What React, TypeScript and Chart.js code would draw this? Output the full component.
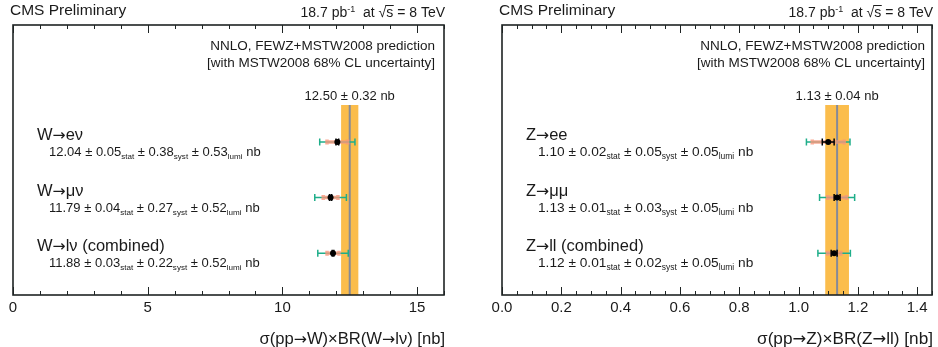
import React, { useEffect, useRef } from 'react';
import { Chart, registerables } from 'chart.js';

Chart.register(...registerables);

const FONT = "'Liberation Sans', Arial, Helvetica, sans-serif";
const ARROW_FONT = "'DejaVu Sans', sans-serif";
const TEXT = '#1a1a1a';
const FRAME = '#1e2424';
const BAND = '#fbbd4c';
const PRED_LINE = '#868a98';
const TOTAL_COLOR = '#1fae8a';
const SYST_COLOR = 'rgba(247,150,122,0.8)';

// ---- shared ----
const rowPositions = [3, 2, 1];
const headerLeft = 'CMS Preliminary';
const luminosity = '18.7';
const energy = '8';
const predictionLines = ['NNLO, FEWZ+MSTW2008 prediction', '[with MSTW2008 68% CL uncertainty]'];

// ---- W panel ----
const wChannels = ['W→eν', 'W→μν', 'W→lν (combined)'];
const wValues = [12.04, 11.79, 11.88];
const wStat = [0.05, 0.04, 0.03];
const wSyst = [0.38, 0.27, 0.22];
const wLumi = [0.53, 0.52, 0.52];
const wPrediction = 12.5;
const wPredictionErr = 0.32;
const wAxisMin = 0;
const wAxisMax = 16;
const wMajorStep = 5;
const wMinorStep = 1;
const wTickDecimals = 0;
const wAxisTitle = 'σ(pp→W)×BR(W→lν) [nb]';

// ---- Z panel ----
const zChannels = ['Z→ee', 'Z→μμ', 'Z→ll (combined)'];
const zValues = [1.10, 1.13, 1.12];
const zStat = [0.02, 0.01, 0.01];
const zSyst = [0.05, 0.03, 0.02];
const zLumi = [0.05, 0.05, 0.05];
const zPrediction = 1.13;
const zPredictionErr = 0.04;
const zAxisMin = 0;
const zAxisMax = 1.45;
const zMajorStep = 0.2;
const zMinorStep = 0.05;
const zTickDecimals = 1;
const zAxisTitle = 'σ(pp→Z)×BR(Z→ll) [nb]';

type Seg = { t: string; size: number; dy?: number; over?: boolean; family?: string };

function withArrows(text: string, size: number): Seg[] {
  const parts = text.split('→');
  const out: Seg[] = [];
  parts.forEach((p, i) => {
    if (i > 0) out.push({ t: '→', size: size * 0.95, family: ARROW_FONT });
    if (p) out.push({ t: p, size });
  });
  return out;
}

function drawRich(ctx: CanvasRenderingContext2D, segs: Seg[], x: number, y: number, align: 'left' | 'right' | 'center') {
  const ws = segs.map((s) => {
    ctx.font = `${s.size}px ${s.family || FONT}`;
    return ctx.measureText(s.t).width;
  });
  const total = ws.reduce((a, b) => a + b, 0);
  let cx = align === 'left' ? x : align === 'right' ? x - total : x - total / 2;
  ctx.textAlign = 'left';
  ctx.textBaseline = 'alphabetic';
  ctx.fillStyle = TEXT;
  segs.forEach((s, i) => {
    ctx.font = `${s.size}px ${s.family || FONT}`;
    ctx.fillText(s.t, cx, y + (s.dy || 0));
    if (s.over) {
      ctx.beginPath();
      ctx.strokeStyle = TEXT;
      ctx.lineWidth = 1;
      const oy = y - s.size * 0.82;
      ctx.moveTo(cx - 1, oy);
      ctx.lineTo(cx + ws[i] + 0.5, oy);
      ctx.stroke();
    }
    cx += ws[i];
  });
}

function valueSegs(v: number, st: number, sy: number, lu: number, size: number): Seg[] {
  const sub = size * 0.62;
  return [
    { t: `${v.toFixed(2)} ± ${st.toFixed(2)}`, size },
    { t: 'stat', size: sub, dy: 3 },
    { t: ` ± ${sy.toFixed(2)}`, size },
    { t: 'syst', size: sub, dy: 3 },
    { t: ` ± ${lu.toFixed(2)}`, size },
    { t: 'lumi', size: sub, dy: 3 },
    { t: ' nb', size },
  ];
}

interface PanelCfg {
  channels: string[];
  values: number[];
  stat: number[];
  syst: number[];
  lumi: number[];
  pred: number;
  predErr: number;
  min: number;
  max: number;
  majorStep: number;
  minorStep: number;
  decimals: number;
  title: string;
  padLeft: number;
  padRight: number;
  textRightInset: number;
  valueSize: number;
  titleSize: number;
}

function hbar(ctx: CanvasRenderingContext2D, xa: number, xb: number, y: number, cap: number) {
  ctx.beginPath();
  ctx.moveTo(xa, y);
  ctx.lineTo(xb, y);
  if (cap > 0) {
    ctx.moveTo(xa, y - cap);
    ctx.lineTo(xa, y + cap);
    ctx.moveTo(xb, y - cap);
    ctx.lineTo(xb, y + cap);
  }
  ctx.stroke();
}

function makePlugin(cfg: PanelCfg) {
  return {
    id: 'cmsPanel',
    beforeDatasetsDraw(chart: any) {
      const { ctx, chartArea: a, scales } = chart;
      const xs = scales.x;
      const ys = scales.y;
      ctx.save();
      // prediction band
      const bandTop = a.top + 80;
      const bx0 = xs.getPixelForValue(cfg.pred - cfg.predErr);
      const bx1 = xs.getPixelForValue(cfg.pred + cfg.predErr);
      ctx.fillStyle = BAND;
      ctx.fillRect(bx0, bandTop, bx1 - bx0, a.bottom - bandTop);
      const bc = xs.getPixelForValue(cfg.pred);
      ctx.strokeStyle = PRED_LINE;
      ctx.lineWidth = 2;
      ctx.beginPath();
      ctx.moveTo(bc, bandTop);
      ctx.lineTo(bc, a.bottom);
      ctx.stroke();
      // error bars
      cfg.values.forEach((v, i) => {
        const yp = ys.getPixelForValue(rowPositions[i]);
        const tot = Math.hypot(cfg.stat[i], cfg.syst[i], cfg.lumi[i]);
        const ss = Math.hypot(cfg.stat[i], cfg.syst[i]);
        ctx.strokeStyle = TOTAL_COLOR;
        ctx.lineWidth = 1.5;
        hbar(ctx, xs.getPixelForValue(v - tot), xs.getPixelForValue(v + tot), yp, 3.5);
        ctx.strokeStyle = SYST_COLOR;
        ctx.lineWidth = 3.5;
        hbar(ctx, xs.getPixelForValue(v - ss), xs.getPixelForValue(v + ss), yp, 2.5);
        ctx.strokeStyle = '#000';
        ctx.lineWidth = 1.5;
        hbar(ctx, xs.getPixelForValue(v - cfg.stat[i]), xs.getPixelForValue(v + cfg.stat[i]), yp, 3.5);
      });
      ctx.restore();
    },
    afterDraw(chart: any) {
      const { ctx, chartArea: a, scales } = chart;
      const xs = scales.x;
      const ys = scales.y;
      ctx.save();
      // frame
      ctx.strokeStyle = FRAME;
      ctx.lineWidth = 1.6;
      ctx.strokeRect(a.left, a.top, a.right - a.left, a.bottom - a.top);
      // ticks (inward, top and bottom)
      ctx.lineWidth = 1;
      const nMinor = Math.round((cfg.max - cfg.min) / cfg.minorStep);
      const ratio = Math.round(cfg.majorStep / cfg.minorStep);
      for (let k = 0; k <= nMinor; k++) {
        const val = cfg.min + k * cfg.minorStep;
        if (val > cfg.max + 1e-9) break;
        const px = Math.round(xs.getPixelForValue(val)) + 0.5;
        const len = k % ratio === 0 ? 8 : 4;
        ctx.beginPath();
        ctx.moveTo(px, a.bottom);
        ctx.lineTo(px, a.bottom - len);
        ctx.moveTo(px, a.top);
        ctx.lineTo(px, a.top + len);
        ctx.stroke();
      }
      // header
      drawRich(ctx, [{ t: headerLeft, size: 15.5 }], a.left - 3, a.top - 10, 'left');
      drawRich(
        ctx,
        [
          { t: `${luminosity} pb`, size: 14 },
          { t: '-1', size: 9, dy: -5.5 },
          { t: '  at ', size: 14 },
          { t: '√', size: 14 },
          { t: 's', size: 14, over: true },
          { t: ` = ${energy} TeV`, size: 14 },
        ],
        a.right + 1,
        a.top - 8,
        'right'
      );
      // prediction text
      drawRich(ctx, [{ t: predictionLines[0], size: 13.5 }], a.right - cfg.textRightInset, a.top + 24.5, 'right');
      drawRich(ctx, [{ t: predictionLines[1], size: 13.5 }], a.right - cfg.textRightInset, a.top + 41.5, 'right');
      drawRich(
        ctx,
        [{ t: `${cfg.pred.toFixed(2)} ± ${cfg.predErr.toFixed(2)} nb`, size: 13 }],
        xs.getPixelForValue(cfg.pred),
        a.top + 74.5,
        'center'
      );
      // channel labels
      cfg.channels.forEach((name, i) => {
        const yp = ys.getPixelForValue(rowPositions[i]);
        drawRich(ctx, withArrows(name, 16.5), a.left + 24, yp - 2, 'left');
        drawRich(
          ctx,
          valueSegs(cfg.values[i], cfg.stat[i], cfg.syst[i], cfg.lumi[i], cfg.valueSize),
          a.left + 36,
          yp + 14,
          'left'
        );
      });
      // x-axis title (right aligned under the axis)
      drawRich(ctx, withArrows(cfg.title, cfg.titleSize), a.right + 1, a.bottom + 48.5, 'right');
      ctx.restore();
    },
  };
}

function createChart(canvas: HTMLCanvasElement, cfg: PanelCfg) {
  return new Chart(canvas, {
    type: 'scatter',
    data: {
      datasets: [
        {
          data: cfg.values.map((v, i) => ({ x: v, y: rowPositions[i] })),
          pointRadius: 3,
          pointHoverRadius: 3,
          backgroundColor: '#000',
          borderColor: '#000',
          borderWidth: 0,
        },
      ],
    },
    options: {
      animation: false,
      responsive: false,
      devicePixelRatio: 1,
      events: [],
      layout: { padding: { left: cfg.padLeft, right: cfg.padRight, top: 25, bottom: 0 } },
      plugins: { legend: { display: false }, tooltip: { enabled: false }, title: { display: false } },
      scales: {
        x: {
          type: 'linear',
          position: 'bottom',
          min: cfg.min,
          max: cfg.max,
          afterFit: (s: any) => {
            s.height = 52;
          },
          ticks: {
            stepSize: cfg.majorStep,
            includeBounds: false,
            autoSkip: false,
            maxRotation: 0,
            padding: 3.5,
            color: TEXT,
            font: { family: FONT, size: 15 },
            callback: (v: any) => Number(v).toFixed(cfg.decimals),
          },
          grid: { display: false, drawTicks: false },
          border: { display: false },
          title: { display: false, text: cfg.title },
        },
        y: { type: 'linear', display: false, min: 0.25, max: 5.1 },
      },
    },
    plugins: [makePlugin(cfg)],
  } as any);
}

export default function App() {
  const leftRef = useRef<HTMLCanvasElement>(null);
  const rightRef = useRef<HTMLCanvasElement>(null);

  useEffect(() => {
    const c1 = createChart(leftRef.current!, {
      channels: wChannels,
      values: wValues,
      stat: wStat,
      syst: wSyst,
      lumi: wLumi,
      pred: wPrediction,
      predErr: wPredictionErr,
      min: wAxisMin,
      max: wAxisMax,
      majorStep: wMajorStep,
      minorStep: wMinorStep,
      decimals: wTickDecimals,
      title: wAxisTitle,
      padLeft: 13,
      padRight: 25,
      textRightInset: 9,
      valueSize: 13,
      titleSize: 16.6,
    });
    const c2 = createChart(rightRef.current!, {
      channels: zChannels,
      values: zValues,
      stat: zStat,
      syst: zSyst,
      lumi: zLumi,
      pred: zPrediction,
      predErr: zPredictionErr,
      min: zAxisMin,
      max: zAxisMax,
      majorStep: zMajorStep,
      minorStep: zMinorStep,
      decimals: zTickDecimals,
      title: zAxisTitle,
      padLeft: 33,
      padRight: 6,
      textRightInset: 7,
      valueSize: 13.7,
      titleSize: 17.2,
    });
    return () => {
      c1.destroy();
      c2.destroy();
    };
  }, []);

  return (
    <div
      style={{
        position: 'absolute',
        left: 0,
        top: 0,
        width: 938,
        height: 347,
        display: 'flex',
        background: '#fff',
      }}
    >
      <canvas ref={leftRef} width={469} height={347} style={{ display: 'block', width: 469, height: 347 }} />
      <canvas ref={rightRef} width={469} height={347} style={{ display: 'block', width: 469, height: 347 }} />
    </div>
  );
}
